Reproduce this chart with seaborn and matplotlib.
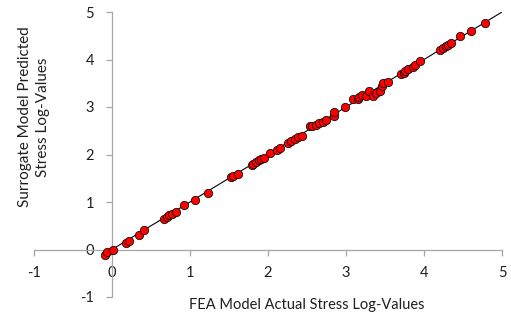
import matplotlib
matplotlib.use("Agg")
import matplotlib.pyplot as plt
import seaborn as sns
import pandas as pd

# ---- data ----
fea_actual = [-0.09, -0.07, 0.01, 0.18, 0.22, 0.34, 0.41, 0.67, 0.70, 0.73, 0.77, 0.82,
              0.92, 1.06, 1.23, 1.53, 1.55, 1.62, 1.79, 1.81, 1.84, 1.88, 1.91, 1.95,
              2.03, 2.11, 2.15, 2.26, 2.29, 2.35, 2.39, 2.43, 2.54, 2.57, 2.62, 2.66,
              2.70, 2.74, 2.84, 2.85, 2.99, 3.09, 3.15, 3.17, 3.20, 3.26, 3.29, 3.34,
              3.38, 3.44, 3.46, 3.48, 3.54, 3.71, 3.74, 3.76, 3.80, 3.86, 3.88, 3.95,
              4.21, 4.24, 4.28, 4.31, 4.35, 4.46, 4.60, 4.78]
surrogate_pred = [-0.11, -0.06, -0.01, 0.13, 0.17, 0.30, 0.42, 0.65, 0.69, 0.72, 0.74, 0.79,
                  0.94, 1.05, 1.20, 1.53, 1.55, 1.59, 1.77, 1.81, 1.84, 1.88, 1.90, 1.93,
                  2.04, 2.09, 2.13, 2.25, 2.28, 2.33, 2.36, 2.40, 2.59, 2.60, 2.63, 2.66,
                  2.69, 2.72, 2.82, 2.89, 3.00, 3.17, 3.16, 3.21, 3.25, 3.23, 3.33, 3.24,
                  3.30, 3.33, 3.44, 3.50, 3.53, 3.69, 3.72, 3.75, 3.80, 3.85, 3.89, 3.97,
                  4.21, 4.24, 4.28, 4.31, 4.34, 4.50, 4.61, 4.76]
line_x = [-0.1, 5.0]
line_y = [-0.1, 5.0]
ticks = [-1, 0, 1, 2, 3, 4, 5]
tick_labels = ["-1", "0", "1", "2", "3", "4", "5"]
x_title = "FEA Model Actual Stress Log-Values"
y_title = "Surrogate Model Predicted\nStress Log-Values"

sns.set_theme(style="white")
plt.rcParams["font.family"] = ["Lato", "DejaVu Sans"]

W, H = 511, 322
fig = plt.figure(figsize=(W / 100, H / 100), dpi=100)
ax = fig.add_axes([34 / W, 1 - 297 / H, (502 - 34) / W, (297 - 12) / H])

df = pd.DataFrame({"x": fea_actual, "y": surrogate_pred})
line_df = pd.DataFrame({"x": line_x, "y": line_y})

sns.lineplot(data=line_df, x="x", y="y", ax=ax, color="black", linewidth=0.8, zorder=2)
sns.scatterplot(data=df, x="x", y="y", ax=ax, color="#FF0000", edgecolor="#111111",
                linewidth=0.6, s=36, zorder=3)

ax.set_xlim(-1, 5)
ax.set_ylim(-1, 5)
ax.set_xticks(ticks)
ax.set_xticklabels(tick_labels)
ax.set_yticks(ticks)
ax.set_yticklabels(tick_labels)
ax.set_xlabel("")
ax.set_ylabel("")

axis_color = "#A6A6A6"
for side in ["top", "right"]:
    ax.spines[side].set_visible(False)
ax.spines["left"].set_position(("data", 0))
ax.spines["bottom"].set_position(("data", 0))
for side in ["left", "bottom"]:
    ax.spines[side].set_color(axis_color)
    ax.spines[side].set_linewidth(0.9)

ax.tick_params(axis="x", direction="out", length=4, width=0.9, color=axis_color,
               pad=8, labelsize=10.5, labelcolor="#1f1f1f", bottom=True)
ax.tick_params(axis="y", direction="out", length=4, width=0.9, color=axis_color,
               pad=9, labelsize=10.5, labelcolor="#1f1f1f", left=True)
ax.set_facecolor("white")
fig.patch.set_facecolor("white")

fig.text(307 / W, 1 - 305 / H, x_title, ha="center", va="center", fontsize=10.5, color="#1f1f1f")
fig.text(34 / W, 1 - 117 / H, y_title, ha="center", va="center", rotation=90,
         multialignment="center", fontsize=11, color="#1f1f1f", linespacing=1.45)

fig.savefig("out.png", dpi=100, facecolor="white")
